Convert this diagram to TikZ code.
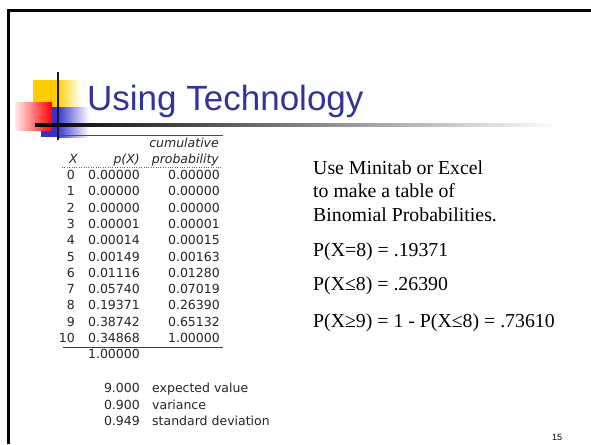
\documentclass[tikz,border=0pt]{standalone}
\usepackage{fontspec}
\setmainfont{Liberation Serif}
\newfontfamily\tabfont{DejaVu Sans}
\newfontfamily\headfont{Liberation Sans}
\definecolor{titleblue}{RGB}{51,51,153}
\definecolor{logoyellow}{RGB}{255,204,0}
\definecolor{logoblue}{RGB}{51,51,204}
\definecolor{logored}{RGB}{255,0,0}
\tikzset{
  tabcell/.style={inner sep=0pt, anchor=base east, text=black!85,
    font=\tabfont\fontsize{12.5}{14}\selectfont},
  tabhead/.style={tabcell, font=\tabfont\itshape\fontsize{12.5}{14}\selectfont},
  statlabel/.style={tabcell, anchor=base west},
  note/.style={inner sep=0pt, anchor=base west, font=\fontsize{19.8}{22}\selectfont}
}
\begin{document}
\begin{tikzpicture}[x=1pt,y=-1pt]
\useasboundingbox (0,0) rectangle (591,444);
\fill[white] (0,0) rectangle (591,444);

% slide frame
\draw[line width=2.5pt] (8.5,444) -- (8.5,10.5) -- (591,10.5);

% logo
\fill[logoyellow] (33,80) rectangle (57,107);
\shade[left color=logoyellow, right color=white] (57,80) rectangle (81,107);
\fill[logoblue] (41,107) rectangle (57,137);
\shade[left color=logoblue, right color=white] (57,107) rectangle (89,137);
\shade[left color=logored!8, right color=logored] (15,102) rectangle (52,130);
\draw[line width=2.5pt, black!90] (58,72) -- (58,140);
\shade[left color=black, middle color=black!70, right color=white] (35,123.8) rectangle (560,126.2);

% title
\node[inner sep=0pt, anchor=base west, text=titleblue,
  font=\headfont\fontsize{35}{40}\selectfont] (title) at (87,110) {Using Technology};

% table
\draw[black!70] (62,135) -- (223,135);
\node[tabhead] (cum) at (219,147.5) {cumulative};
\node[tabhead] (hx) at (78,163.5) {X};
\node[tabhead] (hp) at (140,163.5) {p(X)};
\node[tabhead] (hc) at (219,163.5) {probability};
\draw[black!60, dotted] (62,167) -- (222,167);

\foreach \x/\p/\c [count=\i from 0] in {0/0.00000/0.00000, 1/0.00000/0.00000,
    2/0.00000/0.00000, 3/0.00001/0.00001, 4/0.00014/0.00015, 5/0.00149/0.00163,
    6/0.01116/0.01280, 7/0.05740/0.07019, 8/0.19371/0.26390, 9/0.38742/0.65132,
    10/0.34868/1.00000} {
  \node[tabcell] (x\i) at (75,{179.5+16.3*\i}) {\x};
  \node[tabcell] (p\i) at (140,{179.5+16.3*\i}) {\p};
  \node[tabcell] (c\i) at (220,{179.5+16.3*\i}) {\c};
}
\draw[black!75] (63,347) -- (223,347);
\node[tabcell] (total) at (140,358.5) {1.00000};

% summary values
\node[tabcell] (mean) at (140,392.5) {9.000};
\node[statlabel] (meanlab) at (152,392.5) {expected value};
\node[tabcell] (var) at (140,409) {0.900};
\node[statlabel] (varlab) at (152,409) {variance};
\node[tabcell] (sd) at (140,425.5) {0.949};
\node[statlabel] (sdlab) at (152,425.5) {standard deviation};

% notes on the right
\node[note] (n1) at (313,174) {Use Minitab or Excel};
\node[note] (n2) at (313,197.5) {to make a table of};
\node[note] (n3) at (313,221) {Binomial Probabilities.};
\node[note] (n4) at (313,256) {P(X=8) = .19371};
\node[note] (n5) at (313,290.5) {P(X≤8) = .26390};
\node[note] (n6) at (313,327) {P(X≥9) = 1 - P(X≤8) = .73610};

% page number
\node[inner sep=0pt, font=\headfont\fontsize{9}{10}\selectfont] (page) at (557,437) {15};
\end{tikzpicture}
\end{document}
